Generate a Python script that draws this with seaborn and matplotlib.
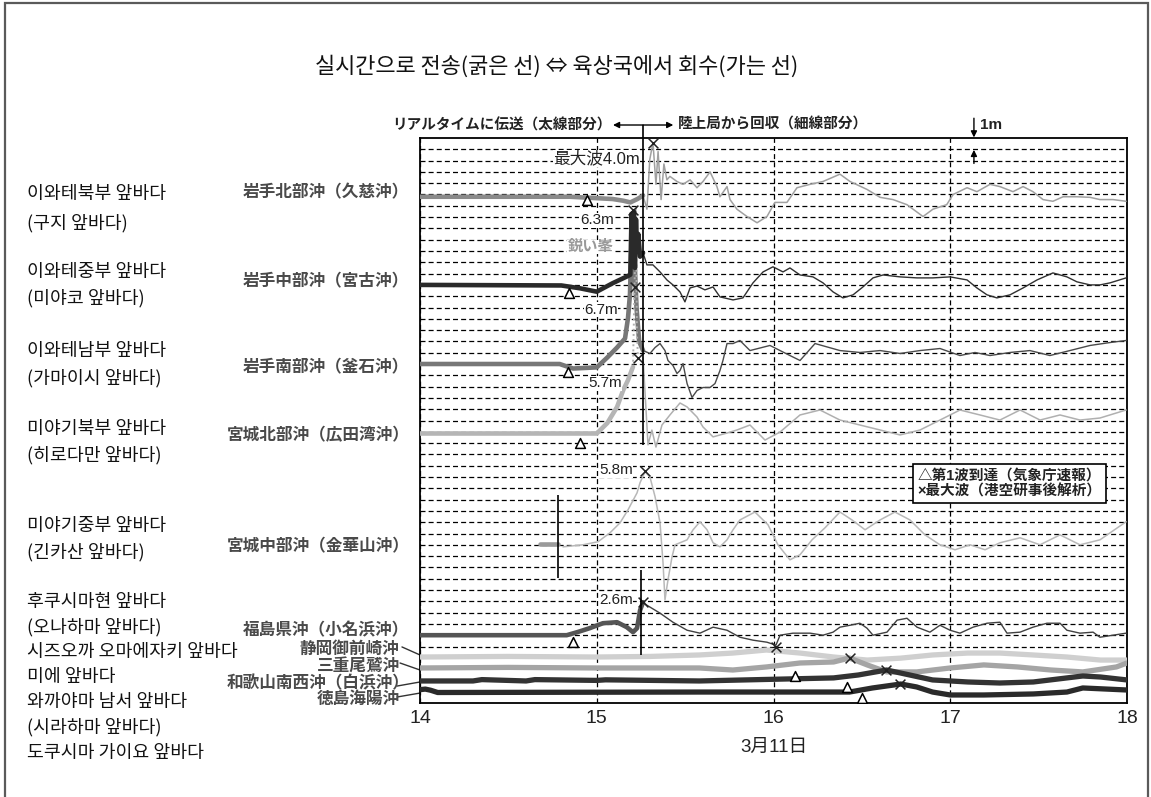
import numpy as np
import pandas as pd
import matplotlib
matplotlib.use('Agg')
import matplotlib.pyplot as plt
import seaborn as sns
from matplotlib.patches import Rectangle

# ---------------- data ----------------
hours = [14, 15, 16, 17, 18]
hour_labels = ['14', '15', '16', '17', '18']
x_label = '3月11日'
title = '실시간으로 전송(굵은 선) ⇔ 육상국에서 회수(가는 선)'

stations_jp = ['岩手北部沖（久慈沖）', '岩手中部沖（宮古沖）', '岩手南部沖（釜石沖）',
               '宮城北部沖（広田湾沖）', '宮城中部沖（金華山沖）', '福島県沖（小名浜沖）',
               '静岡御前崎沖', '三重尾鷲沖', '和歌山南西沖（白浜沖）', '徳島海陽沖']
labels_kr = ['이와테북부 앞바다', '(구지 앞바다)', '이와테중부 앞바다', '(미야코 앞바다)',
             '이와테남부 앞바다', '(가마이시 앞바다)', '미야기북부 앞바다', '(히로다만 앞바다)',
             '미야기중부 앞바다', '(긴카산 앞바다)', '후쿠시마현 앞바다', '(오나하마 앞바다)',
             '시즈오까 오마에자키 앞바다', '미에 앞바다', '와까야마 남서 앞바다', '(시라하마 앞바다)',
             '도쿠시마 가이요 앞바다']

# water level (m, relative to each station's resting level); (hour, metres)
kuji_thick = [(14.0, 0.0), (14.85, 0.0), (15.09, -0.2), (15.15, -0.35), (15.19, -0.5),
              (15.23, -0.2), (15.262, 0.1)]
kuji_thin = [(15.262, 0.1), (15.284, -1.1), (15.30, 3.3), (15.318, 4.8), (15.335, 1.1),
             (15.347, 4.0), (15.364, -0.25), (15.38, 2.9), (15.397, 1.5), (15.414, 1.8),
             (15.454, 1.35), (15.488, 1.1), (15.528, 1.5), (15.567, 0.8), (15.601, 1.35),
             (15.641, 2.2), (15.68, 0.9), (15.697, 0.0), (15.737, 0.9), (15.754, -0.25),
             (15.793, -1.1), (15.85, -1.75), (15.907, -2.3), (15.963, -1.75), (16.008, -0.5),
             (16.076, -0.5), (16.133, 0.8), (16.207, 1.1), (16.28, 1.35), (16.376, 2.0),
             (16.433, 1.35), (16.529, 0.65), (16.603, -0.05), (16.676, -0.25), (16.755, -0.7),
             (16.846, -1.75), (16.902, -1.1), (16.98, -0.7), (17.016, 0.2), (17.095, 0.8),
             (17.151, 0.45), (17.225, 1.1), (17.281, 0.9), (17.355, 0.45), (17.412, 0.9),
             (17.468, 0.45), (17.525, -0.25), (17.581, -0.4), (17.638, 0.0), (17.717, 0.0),
             (17.791, -0.05), (17.847, -0.25), (17.921, -0.25), (17.995, -0.4)]

miyako_thick = [(14.0, 0.0), (14.8, -0.05), (14.905, -0.3), (15.0, -0.6), (15.09, 0.15),
                (15.17, 0.74), (15.19, 0.9), (15.197, 6.3), (15.203, 2.0), (15.21, 6.5),
                (15.216, 1.5), (15.222, 5.8), (15.228, 3.0), (15.235, 4.5), (15.245, 2.5),
                (15.262, 2.83)]
miyako_thin = [(15.262, 2.83), (15.284, 1.77), (15.318, 1.77), (15.358, 1.15), (15.397, 0.44),
               (15.431, 0.0), (15.471, -0.62), (15.499, -1.5), (15.528, -0.27), (15.567, -0.1),
               (15.612, -0.44), (15.658, -0.18), (15.697, -1.06), (15.771, -1.33), (15.827, -1.15),
               (15.884, 0.18), (15.941, 1.15), (15.997, 1.6), (16.054, 1.15), (16.093, 1.5),
               (16.15, 0.88), (16.223, 0.71), (16.28, 0.18), (16.337, -0.62), (16.393, -1.15),
               (16.45, -0.88), (16.506, -0.18), (16.563, 0.62), (16.62, 0.88), (16.716, 0.71),
               (16.812, 0.62), (16.902, 0.62), (16.999, 0.71), (17.095, 0.44), (17.151, -0.27),
               (17.208, -0.88), (17.264, -1.15), (17.338, -0.88), (17.412, -0.27), (17.491, 0.44),
               (17.581, 1.06), (17.66, 0.71), (17.717, 0.27), (17.791, 0.0), (17.847, 0.0),
               (17.904, 0.18), (17.995, 0.62)]

kamaishi_thick = [(14.0, 0.0), (14.79, 0.0), (14.866, -0.4), (15.0, -0.3), (15.06, 0.58),
                  (15.115, 1.46), (15.16, 2.26), (15.177, 4.1), (15.188, 6.2), (15.198, 11.6),
                  (15.205, 7.1), (15.212, 10.0), (15.225, 5.0), (15.24, 2.0), (15.262, 1.19)]
kamaishi_thin = [(15.262, 1.19), (15.301, 0.93), (15.33, 1.46), (15.358, 1.81), (15.386, 1.19),
                 (15.403, 0.31), (15.431, -0.13), (15.454, -0.84), (15.471, -0.58), (15.488, 0.04),
                 (15.511, -1.73), (15.539, -2.96), (15.567, -2.35), (15.601, -2.08), (15.641, -2.08),
                 (15.669, -1.73), (15.697, -0.58), (15.714, 0.31), (15.737, 1.81), (15.771, 1.81),
                 (15.81, 2.08), (15.867, 1.19), (15.98, 1.64), (16.093, 0.75), (16.15, 0.31),
                 (16.235, 1.81), (16.376, 1.19), (16.489, 1.02), (16.603, 1.19), (16.716, 0.93),
                 (16.829, 1.19), (16.942, 1.37), (17.055, 0.75), (17.14, 1.02), (17.225, 0.75),
                 (17.338, 1.02), (17.451, 1.19), (17.564, 0.75), (17.677, 1.19), (17.791, 1.64),
                 (17.904, 1.9), (17.995, 2.08)]

miyagi_n_thick = [(14.0, 0.0), (14.81, 0.0), (15.0, 0.0), (15.06, 0.93), (15.115, 2.35),
                  (15.15, 3.85), (15.177, 4.73), (15.205, 5.9)]
miyagi_n_peak = [(15.205, 5.9), (15.215, 14.0), (15.222, 20.0), (15.227, 9.0), (15.233, 6.7)]
miyagi_n_thin = [(15.262, 6.7), (15.29, -1.0), (15.312, 0.3), (15.335, -1.2), (15.369, 0.75),
                 (15.414, 1.64), (15.471, 2.7), (15.511, 2.35), (15.567, 1.46), (15.601, 0.58),
                 (15.658, -0.3), (15.737, 0.04), (15.793, 0.31), (15.867, 0.75), (15.952, -0.58),
                 (16.037, 0.13), (16.15, 1.64), (16.263, 2.08), (16.376, 1.19), (16.489, 0.75),
                 (16.603, 0.31), (16.716, -0.13), (16.829, 0.31), (16.942, 1.19), (17.055, 2.08),
                 (17.168, 1.64), (17.281, 1.19), (17.395, 2.08), (17.508, 1.19), (17.621, 1.64),
                 (17.734, 1.19), (17.847, 1.37), (17.995, 2.08)]

kinkasan_thick = [(14.68, 0.1), (14.78, 0.1)]
kinkasan_thin = [(14.809, -0.18), (14.922, 0.0), (15.007, 0.27), (15.075, 1.06), (15.132, 1.95),
                 (15.177, 3.1), (15.228, 4.6), (15.245, 5.5), (15.273, 6.46), (15.301, 6.0),
                 (15.33, 4.25), (15.358, 1.95), (15.375, -1.6), (15.386, -4.87), (15.403, -3.1),
                 (15.426, -1.06), (15.443, 0.0), (15.471, 0.18), (15.511, 0.44), (15.545, 1.33),
                 (15.584, 2.04), (15.624, 1.33), (15.658, 0.18), (15.697, -0.18), (15.737, 0.44),
                 (15.771, 1.33), (15.81, 2.2), (15.895, 2.9), (15.969, 1.77), (16.025, 0.0),
                 (16.093, -1.33), (16.15, -0.88), (16.218, 0.44), (16.291, 1.5), (16.376, 2.9),
                 (16.444, 2.2), (16.518, 1.33), (16.603, 2.2), (16.687, 2.9), (16.772, 2.2),
                 (16.857, 0.88), (16.942, 0.0), (17.027, -0.44), (17.112, 0.0), (17.197, -0.44),
                 (17.281, 0.18), (17.395, 0.62), (17.508, 0.0), (17.621, 0.88), (17.734, 0.0),
                 (17.847, 0.44), (17.995, 2.04)]

fukushima_thick = [(14.0, 0.0), (14.8, 0.0), (14.83, 0.0), (14.89, 0.27), (14.96, 0.62),
                   (15.035, 1.06), (15.115, 1.15), (15.17, 0.71), (15.205, 0.27), (15.228, 0.62),
                   (15.245, 2.2), (15.262, 2.92)]
fukushima_thin = [(15.262, 2.92), (15.284, 2.65), (15.358, 1.95), (15.431, 1.15), (15.511, 0.44),
                  (15.584, 0.18), (15.658, 0.71), (15.737, 0.44), (15.81, -0.18), (15.884, -0.44),
                  (15.963, -0.62), (16.014, -0.88), (16.037, 0.0), (16.11, 0.18), (16.207, 0.18),
                  (16.28, 0.0), (16.337, 0.27), (16.376, 0.71), (16.433, 0.88), (16.489, 1.06),
                  (16.529, 0.62), (16.563, 0.0), (16.642, 0.27), (16.699, 1.33), (16.755, 1.5),
                  (16.812, 0.71), (16.885, 0.27), (16.942, 0.88), (16.999, 0.44), (17.055, 0.18),
                  (17.129, 0.71), (17.208, 1.06), (17.281, 1.15), (17.321, 0.18), (17.395, 0.27),
                  (17.468, 0.71), (17.547, 1.06), (17.621, 1.06), (17.66, 0.44), (17.734, 0.18),
                  (17.808, 0.27), (17.847, -0.18), (17.921, 0.0), (17.995, 0.18)]

shizuoka = [(14.0, 0.0), (14.5, 0.05), (15.0, 0.0), (15.3, 0.05), (15.58, 0.18), (15.77, 0.35),
            (15.96, 0.62), (16.15, 0.35), (16.34, 0.0), (16.53, -0.27), (16.72, -0.1), (16.9, 0.18),
            (17.1, 0.35), (17.28, 0.35), (17.47, 0.18), (17.66, 0.0), (17.85, -0.27), (18.0, -0.27)]
mie = [(14.0, 0.0), (14.5, 0.05), (15.0, 0.0), (15.58, 0.0), (15.77, -0.18), (15.96, 0.09),
       (16.15, 0.44), (16.34, 0.53), (16.43, 0.88), (16.53, 0.27), (16.64, -0.35), (16.81, -0.35),
       (17.0, 0.0), (17.19, 0.27), (17.38, 0.09), (17.57, -0.18), (17.75, -0.35), (17.94, 0.09),
       (18.0, 0.44)]
wakayama = [(14.0, 0.0), (14.3, 0.0), (14.35, 0.12), (14.6, 0.0), (14.65, 0.12), (15.0, 0.05),
            (15.05, 0.1), (15.58, 0.0), (16.34, 0.27), (16.48, 0.53), (16.64, 0.97), (16.72, 0.7),
            (16.9, 0.09), (17.1, -0.09), (17.28, -0.18), (17.47, -0.09), (17.66, 0.27), (17.75, 0.44),
            (17.85, 0.35), (18.0, 0.09)]
tokushima = [(14.0, 0.25), (14.03, 0.3), (14.06, 0.2), (14.1, 0.0), (15.58, 0.04), (16.43, 0.04),
             (16.56, 0.4), (16.72, 0.75), (16.81, 0.49), (16.9, 0.04), (17.0, -0.22), (17.19, -0.22),
             (17.47, -0.13), (17.66, 0.04), (17.75, 0.4), (18.0, 0.22)]

# first-wave arrival (triangles) and maximum wave (crosses): (station index, hour, metres)
arrivals = [(0, 14.945, -0.25), (1, 14.843, -0.7), (2, 14.837, -0.75), (3, 14.905, -0.85),
            (5, 14.866, -0.6), (7, 16.12, -0.7), (8, 16.416, -0.53), (9, 16.5, -0.5)]
maxima = [(0, 15.318, 4.8), (1, 15.205, 6.6), (2, 15.216, 6.8), (3, 15.233, 6.7),
          (4, 15.273, 6.5), (5, 15.262, 2.9), (6, 16.014, 0.9), (7, 16.433, 0.9),
          (8, 16.636, 0.97), (9, 16.716, 0.75)]
max_labels = ['最大波4.0m', '6.3m', '鋭い峯', '6.7m', '5.7m', '5.8m', '2.6m']

# ---------------- layout / style ----------------
offsets = [44.8, 37.0, 30.0, 23.85, 14.0, 6.0, 4.07, 3.1, 1.95, 0.93]

sns.set_theme(style='white')
plt.rcParams['font.family'] = ['Liberation Sans', 'Noto Sans CJK JP', 'DejaVu Sans']
plt.rcParams['axes.unicode_minus'] = False
KR = ['Noto Sans CJK KR', 'DejaVu Sans']

W, H = 1151, 797
fig = plt.figure(figsize=(W / 100, H / 100), dpi=100)
fig.add_artist(Rectangle((5 / W, -0.01), (1148 - 5) / W, (797 - 3) / H + 0.01,
                         transform=fig.transFigure, fill=False, edgecolor='#5a5a5a', lw=1.6))
ax = fig.add_axes([420 / W, 1 - 703 / H, 707 / W, 565 / H])


def draw(points, station, color, lw, ls='-', z=3):
    df = pd.DataFrame(points, columns=['t', 'h'])
    df['v'] = df['h'] + offsets[station]
    sns.lineplot(data=df, x='t', y='v', ax=ax, color=color, linewidth=lw, linestyle=ls,
                 estimator=None, sort=False, legend=False, zorder=z)


TH, TN = 3.3, 1.0
draw(kuji_thick, 0, '#8a8a8a', TH)
draw(kuji_thin, 0, '#a0a0a0', 1.1)
draw(miyako_thick, 1, '#2a2a2a', TH, z=4)
draw(miyako_thin, 1, '#303030', TN)
draw(kamaishi_thick, 2, '#777777', TH)
draw(kamaishi_thin, 2, '#4a4a4a', TN)
draw(miyagi_n_thick, 3, '#b5b5b5', TH)
draw(miyagi_n_peak, 3, '#b0b0b0', 1.4, ls=':')
draw(miyagi_n_thin, 3, '#b0b0b0', 1.1)
draw(kinkasan_thick, 4, '#9a9a9a', TH)
draw(kinkasan_thin, 4, '#b8b8b8', 1.1)
draw(fukushima_thick, 5, '#555555', TH)
draw(fukushima_thin, 5, '#404040', TN)
draw(shizuoka, 6, '#cfcfcf', 3.8)
draw(mie, 7, '#a5a5a5', 3.8)
draw(wakayama, 8, '#333333', 3.8)
draw(tokushima, 9, '#2a2a2a', 3.8)

arr = pd.DataFrame(arrivals, columns=['s', 't', 'h'])
arr['v'] = arr['h'] + arr['s'].map(lambda i: offsets[i])
sns.scatterplot(data=arr, x='t', y='v', ax=ax, marker='^', s=50, facecolor='white',
                edgecolor='black', linewidth=1.1, zorder=8, legend=False)
mx = pd.DataFrame(maxima, columns=['s', 't', 'h'])
mx['v'] = mx['h'] + mx['s'].map(lambda i: offsets[i])
sns.scatterplot(data=mx, x='t', y='v', ax=ax, marker='x', s=50, color='#222222',
                linewidth=1.1, zorder=8, legend=False)

# axes
ax.set_xlim(14, 18)
ax.set_ylim(0, 50)
ax.set_xticks(hours)
ax.set_xticklabels(hour_labels)
ax.set_yticks(range(5, 50))
ax.set_xlabel('')
ax.set_ylabel('')
ax.tick_params(axis='both', length=0, labelleft=False, labelsize=14, pad=5, colors='#222222')
ax.grid(True, axis='both', color='black', linestyle=(0, (4, 2.5)), linewidth=0.9)
ax.set_axisbelow(True)
for s in ax.spines.values():
    s.set_visible(True)
    s.set_color('black')
    s.set_linewidth(1.3)
ax.text(16.0, -3.95, x_label, ha='center', va='center', fontsize=13.5, color='#222222',
        clip_on=False)

# separator and scale bars
sep_t = 15.262
ax.vlines(sep_t, 22.83, 51.15, color='black', lw=1.2, zorder=9, clip_on=False)
ax.vlines(14.78, 11.06, 18.4, color='black', lw=1.2, zorder=9)
ax.vlines(15.25, 4.25, 11.77, color='black', lw=1.2, zorder=9)

arrow_kw = dict(arrowstyle='-|>', color='black', lw=1.0, mutation_scale=9, shrinkA=0, shrinkB=0)
ax.annotate('', xy=(15.092, 51.15), xytext=(sep_t, 51.15), arrowprops=arrow_kw,
            annotation_clip=False)
ax.annotate('', xy=(15.433, 51.15), xytext=(sep_t, 51.15), arrowprops=arrow_kw,
            annotation_clip=False)
ax.text(15.086, 51.15, 'リアルタイムに伝送（太線部分）', ha='right', va='center', fontsize=10.5,
        fontweight='bold', color='#222222', clip_on=False)
ax.text(15.46, 51.15, '陸上局から回収（細線部分）', ha='left', va='center', fontsize=10.5,
        fontweight='bold', color='#222222', clip_on=False)

# 1 m scale
ax.annotate('', xy=(17.134, 50.05), xytext=(17.134, 51.75), arrowprops=arrow_kw,
            annotation_clip=False)
ax.annotate('', xy=(17.134, 48.95), xytext=(17.134, 47.75), arrowprops=arrow_kw,
            annotation_clip=False)
ax.text(17.17, 51.15, '1m', ha='left', va='center', fontsize=11, fontweight='bold',
        color='#222222', clip_on=False)

# value annotations
ann_pos = [(15.245, 48.2, '#222222', 12), (15.095, 42.7, '#222222', 11),
           (15.095, 40.35, '#999999', 11), (15.12, 34.8, '#222222', 11),
           (15.14, 28.3, '#222222', 11), (15.205, 20.6, '#222222', 11),
           (15.205, 9.1, '#222222', 11)]
for lab, (tx, ty, c, fs) in zip(max_labels, ann_pos):
    ax.text(tx, ty, lab, ha='right', va='center', fontsize=fs, color=c,
            fontweight='bold' if c == '#999999' else 'normal', zorder=10,
            bbox=dict(facecolor='white', edgecolor='none', pad=0.2))

# legend box
ax.text(16.815, 19.45, '△第1波到達（気象庁速報）\n×最大波（港空研事後解析）', ha='left', va='center',
        fontsize=10.5, fontweight='bold', color='#222222', linespacing=1.15, zorder=10,
        bbox=dict(facecolor='white', edgecolor='black', boxstyle='square,pad=0.3', lw=1.2))

# station labels (Japanese)
jp_pos = [(13.94, 45.2), (13.94, 37.3), (13.94, 29.7), (13.94, 23.7), (13.94, 13.9),
          (13.94, 6.4), (13.885, 4.75), (13.885, 3.3), (13.94, 1.75), (13.885, 0.3)]
for lab, (tx, ty) in zip(stations_jp, jp_pos):
    ax.text(tx, ty, lab, ha='right', va='center', fontsize=12, fontweight='bold',
            color='#4a4a4a', clip_on=False)
leaders = [(6, 13.898, 4.96, 4.25), (7, 13.887, 3.54, 2.92), (8, 13.87, 1.5, 1.86),
           (9, 13.87, 0.53, 0.88)]
for _, x0, y0, y1 in leaders:
    ax.plot([x0, 14.0], [y0, y1], color='#333333', lw=1.0, clip_on=False)

# Korean labels
kr_y = [194, 223, 272, 298, 351, 378, 429, 455, 526, 552, 602, 627, 652, 677, 702, 727, 753]
for lab, yy in zip(labels_kr, kr_y):
    fig.text(27 / W, 1 - yy / H, lab, ha='left', va='center', fontsize=13.2, family=KR,
             color='#111111')

fig.text(557 / W, 1 - 67 / H, title, ha='center', va='center', fontsize=15.8, family=KR,
         color='#111111')

fig.savefig('out.png', dpi=100)
